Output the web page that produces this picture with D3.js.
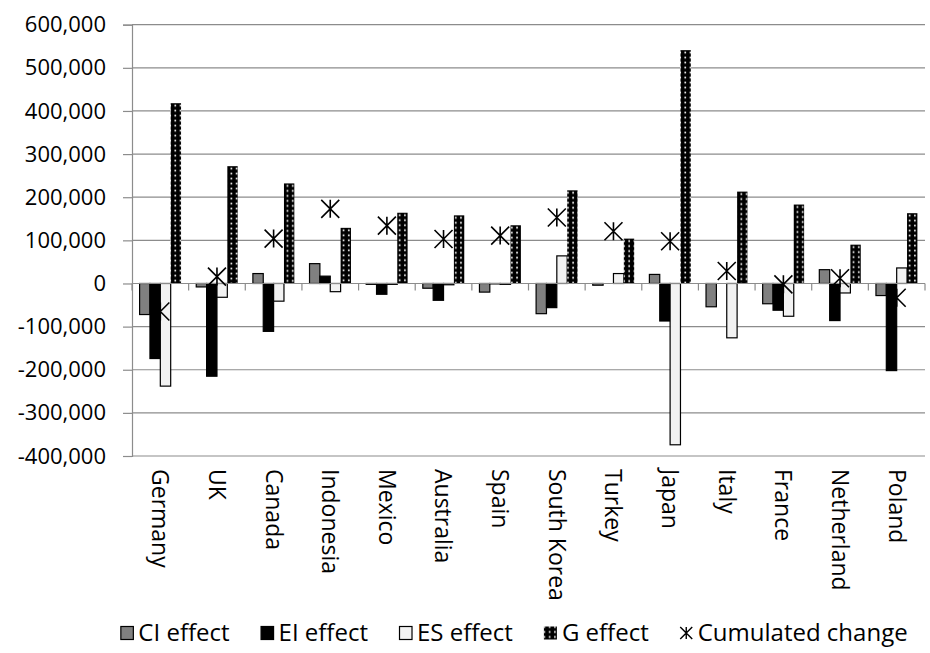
<!DOCTYPE html>
<html>
<head>
<meta charset="utf-8">
<script src="https://cdnjs.cloudflare.com/ajax/libs/d3/7.8.5/d3.min.js"></script>
<style>
  body { margin: 0; background: #fff; }
  svg text { font-family: "Open Sans", sans-serif; fill: #000; }
</style>
</head>
<body>
<script>
var countries = ["Germany", "UK", "Canada", "Indonesia", "Mexico", "Australia", "Spain",
                 "South Korea", "Turkey", "Japan", "Italy", "France", "Netherland", "Poland"];
var ciEffect  = [-72000, -8000, 23000, 46000, -2000, -11000, -20000, -70000, -4000, 21000, -54000, -47000, 32000, -28000];
var eiEffect  = [-174000, -215000, -111000, 17000, -25000, -39000, -1000, -56000, 0, -87000, 0, -62000, -86000, -202000];
var esEffect  = [-238000, -32000, -41000, -19000, -2000, -3000, -2000, 64000, 23000, -374000, -126000, -76000, -22000, 36000];
var gEffect   = [418000, 272000, 232000, 129000, 164000, 158000, 135000, 216000, 104000, 541000, 213000, 183000, 90000, 163000];
var cumChange = [-65000, 16000, 104000, 173000, 134000, 103000, 111000, 153000, 121000, 98000, 29000, -2000, 12000, -33000];
var yTicks = [-400000, -300000, -200000, -100000, 0, 100000, 200000, 300000, 400000, 500000, 600000];
var seriesNames = ["CI effect", "EI effect", "ES effect", "G effect"];

var width = 930, height = 653;
var plotLeft = 132, plotRight = 925, plotTop = 24.7, plotBottom = 456;
var gridColor = "#8c8c8c";

var svg = d3.select("body").append("svg")
  .attr("width", width)
  .attr("height", height);

var defs = svg.append("defs");

var y = d3.scaleLinear().domain([-400000, 600000]).range([plotBottom, plotTop]);
var x = d3.scaleBand().domain(countries).range([plotLeft, plotRight]);
var sub = d3.scaleBand().domain(seriesNames).range([7.6, x.bandwidth() - 7.6]);

var fills = {
  "CI effect": "#808080",
  "EI effect": "#000000",
  "ES effect": "#f2f2f2",
  "G effect": null
};

// dotted pattern for G effect, one per bar so the dots line up
function dotPattern(id, px, py) {
  var p = defs.append("pattern")
    .attr("id", id)
    .attr("patternUnits", "userSpaceOnUse")
    .attr("x", px).attr("y", py || 0)
    .attr("width", 5.2).attr("height", 5);
  p.append("rect").attr("width", 5.2).attr("height", 5).attr("fill", "#000");
  p.append("rect").attr("x", 1.8).attr("y", 1.6).attr("width", 1.7).attr("height", 1.7).attr("fill", "#fff");
}

// gridlines
svg.append("g").selectAll("line")
  .data(yTicks)
  .enter().append("line")
  .attr("x1", plotLeft).attr("x2", plotRight)
  .attr("y1", function(d) { return y(d); })
  .attr("y2", function(d) { return y(d); })
  .attr("stroke", gridColor)
  .attr("stroke-width", 1.2);

// y axis
var yAxis = d3.axisLeft(y)
  .tickValues(yTicks)
  .tickSize(9)
  .tickPadding(17)
  .tickFormat(function(d) { return d3.format(",")(d).replace("\u2212", "-"); });

var ya = svg.append("g")
  .attr("transform", "translate(" + plotLeft + ",0)")
  .call(yAxis);
ya.select(".domain").attr("stroke", gridColor).attr("stroke-width", 1.2);
ya.selectAll(".tick line").attr("stroke", gridColor).attr("stroke-width", 1.2);
ya.selectAll(".tick text").style("font-size", "22px").style("font-family", "Open Sans");

// bars
var table = countries.map(function(c, i) {
  return {country: c, values: [
    {key: "CI effect", v: ciEffect[i], idx: i},
    {key: "EI effect", v: eiEffect[i], idx: i},
    {key: "ES effect", v: esEffect[i], idx: i},
    {key: "G effect", v: gEffect[i], idx: i}
  ]};
});

table.forEach(function(row, i) {
  dotPattern("gpat" + i, x(row.country) + sub("G effect"), y(gEffect[i]));
});

var groups = svg.append("g").selectAll("g")
  .data(table)
  .enter().append("g")
  .attr("transform", function(d) { return "translate(" + x(d.country) + ",0)"; });

groups.selectAll("rect")
  .data(function(d) { return d.values; })
  .enter().append("rect")
  .attr("x", function(d) { return sub(d.key); })
  .attr("width", sub.bandwidth())
  .attr("y", function(d) { return y(Math.max(0, d.v)); })
  .attr("height", function(d) { return Math.abs(y(d.v) - y(0)); })
  .attr("fill", function(d) { return d.key == "G effect" ? "url(#gpat" + d.idx + ")" : fills[d.key]; })
  .attr("stroke", function(d) { return d.key == "G effect" ? "none" : "#000"; })
  .attr("stroke-width", 1.2);

// horizontal axis at zero
svg.append("line")
  .attr("x1", plotLeft).attr("x2", plotRight)
  .attr("y1", y(0)).attr("y2", y(0))
  .attr("stroke", gridColor).attr("stroke-width", 1.2);

var bounds = countries.map(function(c) { return x(c); }).concat([plotRight]);
svg.append("g").selectAll("line")
  .data(bounds)
  .enter().append("line")
  .attr("x1", function(d) { return d; }).attr("x2", function(d) { return d; })
  .attr("y1", y(0)).attr("y2", y(0) + 7)
  .attr("stroke", gridColor).attr("stroke-width", 1.2);

// cumulated change markers
function starPath(s) {
  return "M" + (-s) + "," + (-s) + "L" + s + "," + s +
         "M" + (-s) + "," + s + "L" + s + "," + (-s) +
         "M0," + (-s) + "L0," + s;
}

svg.append("g").selectAll("path")
  .data(cumChange)
  .enter().append("path")
  .attr("transform", function(d, i) {
    return "translate(" + (x(countries[i]) + x.bandwidth() / 2) + "," + y(d) + ")";
  })
  .attr("d", starPath(9))
  .attr("fill", "none")
  .attr("stroke", "#000")
  .attr("stroke-width", 1.6);

// category labels
svg.append("g").selectAll("text")
  .data(countries)
  .enter().append("text")
  .attr("transform", function(d) {
    return "translate(" + (x(d) + x.bandwidth() / 2) + ",469) rotate(90)";
  })
  .attr("dy", "0.35em")
  .style("font-size", "23px")
  .text(function(d) { return d; });

// legend
var legend = svg.append("g");
var items = seriesNames.concat(["Cumulated change"]);
var lx = 0, gap = 31, gItemX = 0;
items.forEach(function(name) {
  var g = legend.append("g").attr("transform", "translate(" + lx + ",0)");
  if (name == "Cumulated change") {
    g.append("path")
      .attr("transform", "translate(6.5,0)")
      .attr("d", starPath(6))
      .attr("fill", "none").attr("stroke", "#000").attr("stroke-width", 1.4);
  } else if (name == "G effect") {
    gItemX = lx;
    g.append("rect").attr("x", 0).attr("y", -6.5).attr("width", 13).attr("height", 13)
      .attr("fill", "url(#gleg)");
  } else {
    g.append("rect").attr("x", 0.5).attr("y", -6.5).attr("width", 12.5).attr("height", 13)
      .attr("fill", fills[name]).attr("stroke", "#000").attr("stroke-width", 1.2);
  }
  var t = g.append("text")
    .attr("x", 18)
    .attr("dy", "0.35em")
    .style("font-size", "24px")
    .text(name);
  lx += 18 + t.node().getComputedTextLength() + gap;
});
lx -= gap;
var legX = 514 - lx / 2;
legend.attr("transform", "translate(" + legX + ",633)");
// legend swatch pattern sits in page coordinates
dotPattern("gleg", legX + gItemX, 633 - 6.5);
</script>
</body>
</html>
